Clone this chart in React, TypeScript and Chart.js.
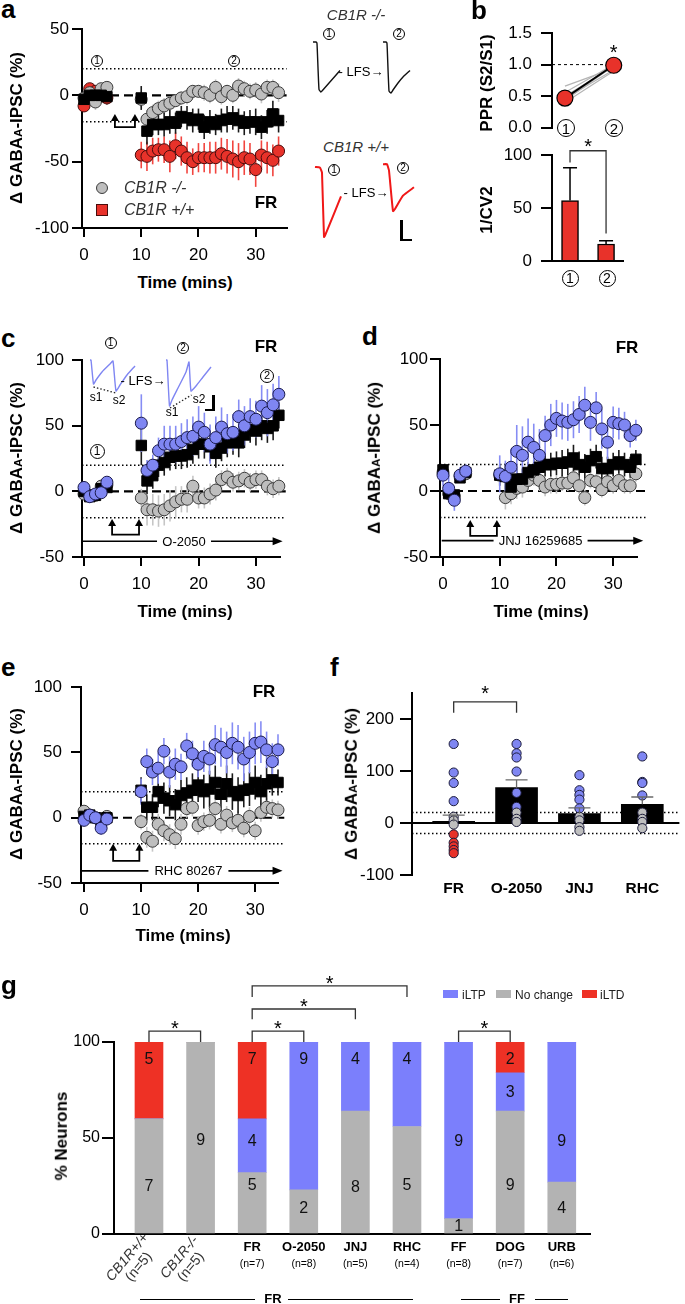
import React, { useEffect, useRef } from "react";
import { Chart, registerables } from "chart.js";

Chart.register(...registerables);

const FONT = "'Liberation Sans', Arial, Helvetica, 'DejaVu Sans', sans-serif";
const NARROW = "'Liberation Sans Narrow', 'Liberation Sans', Arial, sans-serif";
Chart.defaults.font.family = FONT;

// ================= DATA =================
const TIMES = [0, 1, 2, 3, 4, 10, 11, 12, 13, 14, 15, 16, 17, 18, 19, 20, 21, 22, 23, 24, 25, 26, 27, 28, 29, 30, 31, 32, 33, 34];
const TIME_TICKS = [0, 10, 20, 30];

// panel a
const A_KO = [-2, 2, -5, 5, 6, -3, -18, -13, -10, -8, -6, -4, -2, -1, 3, 3, 2, 0, 6, -1, 3, 0, 7, 5, 3, 4, 1, 6, 6, 2];
const A_KO_ERR = [3, 4, 6, 4, 3, 6, 7, 6, 6, 6, 5, 5, 5, 6, 5, 5, 6, 6, 6, 6, 5, 6, 6, 6, 6, 6, 7, 6, 6, 7];
const A_WT = [-8, 5, 3, 1, -2, -45, -46, -42, -41, -41, -46, -38, -42, -47, -50, -47, -47, -47, -47, -44, -46, -48, -50, -47, -48, -56, -45, -47, -49, -42];
const A_WT_ERR = [3, 4, 3, 3, 3, 10, 11, 10, 9, 10, 12, 10, 11, 12, 10, 11, 11, 12, 12, 12, 13, 14, 14, 13, 12, 13, 11, 12, 12, 11];
const A_ALL = [-3, 0, 0, 0, -1, -2, -27, -22, -22, -22, -20, -21, -16, -17, -19, -18, -24, -20, -22, -19, -18, -17, -19, -21, -20, -20, -24, -20, -14, -19];
const A_ALL_ERR = [6, 6, 6, 5, 6, 9, 10, 8, 8, 9, 9, 8, 8, 9, 9, 8, 9, 9, 8, 9, 10, 9, 9, 9, 9, 10, 9, 9, 10, 9];

// panel b
const B_PPR_S1 = [0.66, 0.56, 0.5, 0.46, 0.43, 0.4];
const B_PPR_S2 = [0.94, 1.0, 0.97, 0.92, 0.98, 0.9];
const B_PPR_MEAN = [0.47, 0.99];
const B_PPR_ERR = [0.04, 0.05];
const B_CV = [57, 16];
const B_CV_ERR = [31, 3];

// panel c (O-2050)
const C_LTP = [3, -4, -2, -1, 7, 52, 16, 20, 31, 36, 36, 36, 38, 41, 42, 49, 45, 36, 41, 49, 44, 45, 57, 50, 57, 55, 65, 60, 66, 74];
const C_LTP_ERR = [4, 5, 4, 4, 4, 22, 8, 8, 10, 14, 14, 14, 14, 14, 15, 16, 15, 15, 16, 15, 15, 14, 13, 15, 14, 14, 16, 18, 16, 14];
const C_ALL = [0, -4, -3, 2, 3, 35, 8, 12, 20, 22, 26, 27, 27, 28, 32, 36, 36, 34, 29, 33, 37, 38, 37, 43, 47, 46, 50, 48, 50, 58];
const C_ALL_ERR = [4, 4, 4, 4, 4, 15, 10, 10, 9, 10, 10, 10, 10, 10, 11, 11, 11, 11, 11, 10, 11, 10, 11, 10, 10, 11, 11, 11, 11, 10];
const C_NC = [-2, -3, -3, 4, 5, -5, -14, -14, -15, -14, -11, -8, -6, -6, 4, -5, -5, -2, 1, 9, 11, 7, 8, 10, 7, 9, 9, 4, 2, 4];
const C_NC_ERR = [5, 5, 5, 5, 5, 7, 12, 12, 12, 12, 12, 12, 10, 10, 8, 8, 8, 8, 8, 7, 7, 7, 7, 7, 7, 7, 7, 7, 7, 7];

// panel d (JNJ 16259685)
const D_LTP = [12, 2, -7, 12, 15, 13, 11, 18, 30, 27, 37, 33, 27, 42, 50, 55, 53, 52, 54, 58, 65, 52, 63, 47, 37, 52, 51, 50, 42, 46];
const D_LTP_ERR = [8, 10, 8, 6, 5, 14, 12, 14, 20, 22, 18, 18, 20, 15, 16, 14, 14, 14, 14, 14, 14, 14, 12, 15, 13, 12, 12, 10, 9, 8];
const D_ALL = [16, -2, -3, 10, 14, 12, 11, 3, 9, 9, 14, 16, 18, 20, 20, 21, 21, 22, 25, 20, 18, 23, 26, 17, 17, 20, 22, 20, 18, 24];
const D_ALL_ERR = [4, 4, 4, 4, 4, 8, 10, 8, 8, 8, 8, 8, 9, 9, 9, 9, 10, 10, 10, 10, 10, 9, 9, 9, 9, 9, 9, 9, 8, 7];
const D_NC = [14, -2, -4, 11, 13, 12, -5, -2, 2, 3, 8, 12, 8, 3, 5, 5, 6, 6, 10, 4, -5, 8, 7, 1, 7, 4, 8, 4, 4, 13];
const D_NC_ERR = [4, 4, 4, 4, 4, 8, 9, 8, 8, 8, 8, 8, 8, 7, 7, 7, 6, 6, 6, 6, 6, 6, 6, 6, 6, 6, 6, 6, 6, 6];

// panel e (RHC 80267)
const E_LTP = [-2, 2, 0, -8, -1, 20, 43, 35, 38, 51, 35, 41, 39, 55, 49, 41, 47, 45, 56, 54, 50, 57, 54, 45, 50, 57, 58, 52, 43, 52];
const E_LTP_ERR = [4, 5, 5, 5, 5, 10, 10, 10, 12, 10, 12, 12, 10, 10, 10, 10, 12, 12, 15, 15, 16, 16, 17, 17, 16, 16, 16, 14, 14, 12];
const E_ALL = [1, 2, 0, -5, 0, 21, 8, 8, 20, 15, 13, 10, 17, 19, 21, 25, 20, 22, 27, 18, 26, 20, 17, 21, 22, 27, 20, 26, 29, 27];
const E_ALL_ERR = [3, 3, 3, 3, 3, 10, 10, 10, 12, 12, 12, 12, 12, 12, 13, 13, 13, 14, 13, 13, 14, 14, 14, 13, 13, 13, 13, 13, 12, 10];
const E_NC = [5, 2, 0, -3, 1, -3, -15, -18, -5, -10, -13, -16, -5, 7, 8, -6, -3, -2, 7, -5, 2, -4, -2, -8, 1, -10, 4, 8, 7, 6];
const E_NC_ERR = [4, 4, 4, 4, 4, 6, 8, 8, 8, 8, 8, 8, 8, 7, 7, 7, 7, 7, 7, 7, 7, 7, 7, 7, 7, 7, 7, 7, 7, 7];

// panel f
const F_GROUPS = ["FR", "O-2050", "JNJ", "RHC"];
const F_MEAN = [3, 68, 18, 36];
const F_SEM = [12, 15, 11, 14];
const F_FR = [152, 97, 77, 42, 12, 5, -3, -22, -38, -45, -52, -58];
const F_O2050 = [152, 134, 126, 99, 58, 31, 20, 8, 2];
const F_JNJ = [92, 63, 54, 45, 28, 12, 5, -8, -15];
const F_RHC = [128, 79, 77, 53, 20, 8, 2, -10];

// panel g
const G_CATS = ["CB1R+/+", "CB1R-/-", "FR", "O-2050", "JNJ", "RHC", "FF", "DOG", "URB"];
const G_N = ["(n=5)", "(n=5)", "(n=7)", "(n=8)", "(n=5)", "(n=4)", "(n=8)", "(n=7)", "(n=6)"];
const G_NOCHANGE = [60, 100, 32, 23, 64, 56, 8, 64, 27];
const G_LTP = [0, 0, 28, 77, 36, 44, 92, 20, 73];
const G_LTD = [40, 0, 40, 0, 0, 0, 0, 16, 0];
const G_NOCHANGE_N = ["7", "9", "5", "2", "8", "5", "1", "9", "4"];
const G_LTP_N = ["", "", "4", "9", "4", "4", "9", "3", "9"];
const G_LTD_N = ["5", "", "7", "", "", "", "", "2", ""];

// example traces (time ms, normalised current)
const TRACE_KO_1 = [[0, 0], [3, 0], [4, -3], [6, -95], [8, -100], [9, -98], [27, -57]];
const TRACE_KO_2 = [[0, 0], [3, 0], [4, -3], [6, -98], [8, -102], [10, -96], [15, -82], [20, -70], [27, -57]];
const TRACE_WT_1 = [[0, 0], [5, -1], [6, -4], [7, -8], [9, -100], [10, -98], [26, -42]];
const TRACE_WT_2 = [[0, 4], [4, 4], [5, 0], [6, -5], [10, -63], [12, -60], [20, -41], [31, -29]];
const TRACE_C_1 = [[0, 0], [1, 0], [3.5, -24], [6, -20], [12, -12], [20, -4], [23, -1], [26, -31], [30, -25], [37, -15], [45, -6]];
const TRACE_C_2 = [[0, 0], [1, 0], [3.5, -46], [6, -40], [12, -28], [20, -12], [23, -2], [25, -31], [30, -26], [37, -17], [45, -7]];
const TRACE_C_1_PPR = [[3.5, -27], [26, -33]];
const TRACE_C_2_PPR = [[4, -48], [25.5, -35]];

// ================= STYLES =================
const STY: any = {
  nc: { shape: "circle", r: 6, fill: "#BEBEBE", stroke: "#3c3c3c", err: "#c6c6c6" },
  wt: { shape: "circle", r: 6, fill: "#E8322A", stroke: "#4a0c0c", err: "#F2453F" },
  ltp: { shape: "circle", r: 6, fill: "#7F86F2", stroke: "#1b1b4d", err: "#868DF4" },
  all: { shape: "rect", r: 7.4, fill: "#000", stroke: "#000", err: "#1a1a1a" },
};
const BLUE = "#7F86F2";
const RED = "#E8322A";

// ================= HELPERS =================
function drawErrors(chart: any, after: boolean) {
  const ctx = chart.ctx, X = chart.scales.x, Y = chart.scales.y;
  chart.data.datasets.forEach((ds: any) => {
    if (!ds.errors || !!ds.errAfter !== after) return;
    ctx.strokeStyle = ds.errColor;
    ctx.lineWidth = ds.errWidth || 1.5;
    ds.data.forEach((p: any, j: number) => {
      const e = ds.errors[j];
      const px = X.getPixelForValue(p.x);
      const top = Y.getPixelForValue(p.y + e);
      const bot = ds.errUp ? Y.getPixelForValue(p.y) : Y.getPixelForValue(p.y - e);
      ctx.beginPath();
      ctx.moveTo(px, top);
      ctx.lineTo(px, bot);
      if (ds.errCap) {
        const c = ds.errCap / 2;
        ctx.moveTo(px - c, top);
        ctx.lineTo(px + c, top);
        if (!ds.errUp) {
          ctx.moveTo(px - c, bot);
          ctx.lineTo(px + c, bot);
        }
      }
      ctx.stroke();
    });
  });
}

function star(ctx: any, x: number, y: number, size: number) {
  ctx.font = `${size}px ${FONT}`;
  ctx.textAlign = "center";
  ctx.textBaseline = "alphabetic";
  ctx.fillText("*", x, y + 0.58 * size);
}

function makeDeco(d: any) {
  return {
    id: "deco",
    beforeDatasetsDraw(chart: any) {
      const ctx = chart.ctx, X = chart.scales.x, Y = chart.scales.y;
      ctx.save();
      (d.refLines || []).forEach((l: any) => {
        ctx.beginPath();
        ctx.setLineDash(l.dash || []);
        ctx.lineWidth = l.w;
        ctx.strokeStyle = l.c || "#000";
        const py = Y.getPixelForValue(l.y);
        ctx.moveTo(X.getPixelForValue(l.x1), py);
        ctx.lineTo(X.getPixelForValue(l.x2), py);
        ctx.stroke();
      });
      ctx.setLineDash([]);
      drawErrors(chart, false);
      ctx.restore();
    },
    afterDatasetsDraw(chart: any) {
      const ctx = chart.ctx, X = chart.scales.x, Y = chart.scales.y;
      ctx.save();
      drawErrors(chart, true);
      ctx.setLineDash([]);
      ctx.strokeStyle = "#000";
      ctx.fillStyle = "#000";
      if (d.lfs) {
        const x1 = X.getPixelForValue(d.lfs.x1), x2 = X.getPixelForValue(d.lfs.x2);
        const yb = Y.getPixelForValue(d.lfs.yB), yt = Y.getPixelForValue(d.lfs.yT);
        ctx.lineWidth = 1.8;
        ctx.beginPath();
        ctx.moveTo(x1, yt + 5);
        ctx.lineTo(x1, yb);
        ctx.lineTo(x2, yb);
        ctx.lineTo(x2, yt + 5);
        ctx.stroke();
        [x1, x2].forEach((px) => {
          ctx.beginPath();
          ctx.moveTo(px, yt);
          ctx.lineTo(px - 4, yt + 7);
          ctx.lineTo(px + 4, yt + 7);
          ctx.closePath();
          ctx.fill();
        });
      }
      if (d.drug) {
        const g = d.drug;
        const py = Y.getPixelForValue(g.y);
        const x1 = X.getPixelForValue(g.x1), x2 = X.getPixelForValue(g.x2), cx = X.getPixelForValue(g.cx);
        ctx.lineWidth = 1.6;
        ctx.beginPath();
        ctx.moveTo(x1, py);
        ctx.lineTo(cx - g.gap, py);
        ctx.moveTo(cx + g.gap, py);
        ctx.lineTo(x2 - 6, py);
        ctx.stroke();
        ctx.beginPath();
        ctx.moveTo(x2, py);
        ctx.lineTo(x2 - 10, py - 4);
        ctx.lineTo(x2 - 10, py + 4);
        ctx.closePath();
        ctx.fill();
        ctx.font = `13px ${FONT}`;
        ctx.textAlign = "center";
        ctx.textBaseline = "middle";
        ctx.fillText(g.label, cx, py + 1);
      }
      (d.brackets || []).forEach((b: any) => {
        const x1 = X.getPixelForValue(b.x1), x2 = X.getPixelForValue(b.x2);
        ctx.lineWidth = 1.3;
        ctx.strokeStyle = "#333";
        ctx.beginPath();
        ctx.moveTo(x1, Y.getPixelForValue(b.l1));
        ctx.lineTo(x1, Y.getPixelForValue(b.top));
        ctx.lineTo(x2, Y.getPixelForValue(b.top));
        ctx.lineTo(x2, Y.getPixelForValue(b.l2));
        ctx.stroke();
        ctx.fillStyle = "#000";
        star(ctx, (x1 + x2) / 2, Y.getPixelForValue(b.star), b.size || 20);
      });
      (d.stars || []).forEach((s: any) => {
        ctx.fillStyle = "#000";
        star(ctx, X.getPixelForValue(s.x), Y.getPixelForValue(s.y), s.size || 20);
      });
      (d.texts || []).forEach((t: any) => {
        ctx.font = t.font;
        ctx.fillStyle = t.c || "#000";
        ctx.textAlign = "center";
        ctx.textBaseline = "middle";
        ctx.fillText(t.t, X.getPixelForValue(t.x), Y.getPixelForValue(t.y));
      });
      ctx.restore();
    },
  };
}

function padFor(box: any, area: any, yw: number, xh: number) {
  return {
    left: area.x0 - box.l - yw,
    top: area.y0 - box.t,
    right: box.l + box.w - area.x1,
    bottom: box.t + box.h - area.y1 - xh,
  };
}

function axis(ticks: number[], size: number, tickLen: number, pad: number, fmt?: (v: number) => string) {
  return {
    afterBuildTicks: (s: any) => {
      s.ticks = ticks.map((v) => ({ value: v }));
    },
    ticks: {
      font: { size, family: FONT },
      color: "#000",
      padding: pad,
      autoSkip: false,
      maxRotation: 0,
      callback: (v: any) => (fmt ? fmt(Number(v)) : String(v)),
    },
    grid: { drawOnChartArea: false, color: "#000", lineWidth: 2, tickLength: tickLen, offset: false },
    border: { color: "#000", width: 2 },
  };
}

const BASE = {
  animation: false,
  responsive: false,
  maintainAspectRatio: false,
  events: [],
};

function timeChart(p: any) {
  const padding = padFor(p.box, p.area, p.yw, p.xh);
  return {
    type: "line",
    data: {
      datasets: p.series.map((s: any) => ({
        data: TIMES.map((t, i) => ({ x: t, y: s.v[i] })),
        errors: s.e,
        errColor: s.st.err,
        errWidth: 1.6,
        showLine: false,
        pointStyle: s.st.shape,
        pointRadius: s.st.r,
        pointBackgroundColor: s.st.fill,
        pointBorderColor: s.st.stroke,
        pointBorderWidth: 1,
        order: s.order,
        clip: false,
      })),
    },
    options: {
      ...BASE,
      layout: { padding },
      plugins: { legend: { display: false }, tooltip: { enabled: false } },
      scales: {
        x: {
          type: "linear",
          min: p.xMin,
          max: p.xMax,
          ...axis(TIME_TICKS, 17, 9, 8),
          afterFit: (s: any) => {
            s.height = p.xh;
          },
        },
        y: {
          type: "linear",
          min: p.yMin,
          max: p.yMax,
          ...axis(p.yTicks, 17, 10, p.yPad),
          afterFit: (s: any) => {
            s.width = p.yw;
          },
        },
      },
    },
    plugins: [makeDeco(p.deco)],
  };
}

function dots(lo: number, hi: number) {
  return [
    { y: 0, x1: lo, x2: hi, w: 2.2, dash: [9, 5] },
    { y: 20, x1: lo, x2: hi, w: 1.5, dash: [1.5, 2.5] },
    { y: -20, x1: lo, x2: hi, w: 1.5, dash: [1.5, 2.5] },
  ];
}

// ----- panel configs -----
const A_BOX = { l: 20, t: 12, w: 275, h: 260 };
const makeA = () =>
  timeChart({
    box: A_BOX,
    area: { x0: 82, y0: 29, x1: 287, y1: 228 },
    yw: 62, xh: 40, xMin: -0.35, xMax: 35.4, yMin: -100, yMax: 50, yTicks: [-100, -50, 0, 50], yPad: 3,
    series: [
      { v: A_WT, e: A_WT_ERR, st: STY.wt, order: 3 },
      { v: A_KO, e: A_KO_ERR, st: STY.nc, order: 2 },
      { v: A_ALL, e: A_ALL_ERR, st: STY.all, order: 1 },
    ],
    deco: { refLines: dots(-0.35, 35.4), lfs: { x1: 5.4, x2: 8.9, yB: -24, yT: -14 } },
  });

const C_BOX = { l: 20, t: 342, w: 272, h: 260 };
const makeC = () =>
  timeChart({
    box: C_BOX,
    area: { x0: 82, y0: 360, x1: 280, y1: 557 },
    yw: 62, xh: 40, xMin: -0.35, xMax: 34.2, yMin: -50, yMax: 100, yTicks: [-50, 0, 50, 100], yPad: 8,
    series: [
      { v: C_NC, e: C_NC_ERR, st: STY.nc, order: 3 },
      { v: C_ALL, e: C_ALL_ERR, st: STY.all, order: 2 },
      { v: C_LTP, e: C_LTP_ERR, st: STY.ltp, order: 1 },
    ],
    deco: {
      refLines: dots(-0.35, 35.2),
      lfs: { x1: 4.9, x2: 9.6, yB: -33, yT: -21 },
      drug: { y: -38, x1: -0.35, x2: 34.66, label: "O-2050", cx: 17.45, gap: 27 },
    },
  });

const D_BOX = { l: 378, t: 342, w: 270, h: 260 };
const makeD = () =>
  timeChart({
    box: D_BOX,
    area: { x0: 440, y0: 359, x1: 637, y1: 557 },
    yw: 62, xh: 40, xMin: -0.53, xMax: 34.2, yMin: -50, yMax: 100, yTicks: [-50, 0, 50, 100], yPad: 2,
    series: [
      { v: D_NC, e: D_NC_ERR, st: STY.nc, order: 3 },
      { v: D_ALL, e: D_ALL_ERR, st: STY.all, order: 2 },
      { v: D_LTP, e: D_LTP_ERR, st: STY.ltp, order: 1 },
    ],
    deco: {
      refLines: dots(-0.53, 35.8),
      lfs: { x1: 4.8, x2: 9.5, yB: -34, yT: -22 },
      drug: { y: -37.6, x1: -0.23, x2: 35.3, label: "JNJ 16259685", cx: 17.2, gap: 47 },
    },
  });

const E_BOX = { l: 20, t: 668, w: 272, h: 260 };
const makeE = () =>
  timeChart({
    box: E_BOX,
    area: { x0: 81, y0: 685, x1: 278, y1: 883 },
    yw: 61, xh: 40, xMin: -0.53, xMax: 34.0, yMin: -50, yMax: 100, yTicks: [-50, 0, 50, 100], yPad: 9,
    series: [
      { v: E_NC, e: E_NC_ERR, st: STY.nc, order: 3 },
      { v: E_ALL, e: E_ALL_ERR, st: STY.all, order: 2 },
      { v: E_LTP, e: E_LTP_ERR, st: STY.ltp, order: 1 },
    ],
    deco: {
      refLines: dots(-0.53, 35.1),
      lfs: { x1: 5.1, x2: 9.7, yB: -33, yT: -20 },
      drug: { y: -40.7, x1: -0.53, x2: 34.8, label: "RHC 80267", cx: 18.3, gap: 40 },
    },
  });

// panel b top
const BT_BOX = { l: 470, t: 12, w: 170, h: 135 };
const makeBTop = () => {
  const area = { x0: 552, y0: 33, x1: 632, y1: 133 };
  const indiv = B_PPR_S1.map((s1, i) => ({
    data: [{ x: 1, y: s1 }, { x: 2, y: B_PPR_S2[i] }],
    borderColor: "#b4b4b4",
    borderWidth: 1.2,
    pointRadius: 0,
    showLine: true,
    order: 5,
    clip: false,
  }));
  return {
    type: "line",
    data: {
      datasets: [
        ...indiv,
        {
          data: [{ x: 1, y: B_PPR_MEAN[0] }, { x: 2, y: B_PPR_MEAN[1] }],
          borderColor: "#000",
          borderWidth: 2,
          pointRadius: 8,
          pointBackgroundColor: RED,
          pointBorderColor: "#000",
          pointBorderWidth: 1.2,
          showLine: true,
          errors: B_PPR_ERR,
          errColor: "#000",
          errCap: 8,
          errWidth: 1.5,
          order: 1,
          clip: false,
        },
      ],
    },
    options: {
      ...BASE,
      layout: { padding: padFor(BT_BOX, area, 82, 0) },
      plugins: { legend: { display: false }, tooltip: { enabled: false } },
      scales: {
        x: { type: "linear", display: false, min: 0.735, max: 2.35 },
        y: {
          type: "linear", min: 0, max: 1.5,
          ...axis([0, 0.5, 1, 1.5], 17, 11, 9, (v) => v.toFixed(1)),
          afterFit: (s: any) => { s.width = 82; },
        },
      },
    },
    plugins: [makeDeco({ refLines: [{ y: 1, x1: 0.735, x2: 2, w: 1, dash: [3, 3] }], stars: [{ x: 2, y: 1.27, size: 20 }] })],
  };
};

// panel b bottom
const BB_BOX = { l: 470, t: 135, w: 165, h: 150 };
const makeBBot = () => {
  const area = { x0: 552, y0: 155, x1: 623, y1: 261 };
  return {
    type: "bar",
    data: {
      datasets: [
        {
          data: B_CV.map((v, i) => ({ x: i, y: v })),
          backgroundColor: RED,
          borderColor: "#000",
          borderWidth: 1.5,
          barThickness: 17,
          errors: B_CV_ERR,
          errUp: true,
          errCap: 14,
          errColor: "#000",
          errWidth: 1.5,
          errAfter: true,
        },
      ],
    },
    options: {
      ...BASE,
      layout: { padding: padFor(BB_BOX, area, 82, 0) },
      plugins: { legend: { display: false }, tooltip: { enabled: false } },
      scales: {
        x: {
          type: "linear", min: -0.5, max: 1.47, offset: false,
          ticks: { display: false },
          grid: { display: false, drawTicks: false, offset: false },
          border: { color: "#000", width: 2 },
          afterFit: (s: any) => { s.height = 0; },
        },
        y: {
          type: "linear", min: 0, max: 100,
          ...axis([0, 50, 100], 17, 11, 9),
          afterFit: (s: any) => { s.width = 82; },
        },
      },
    },
    plugins: [makeDeco({ brackets: [{ x1: 0, x2: 1, top: 104, l1: 93, l2: 26, star: 113, size: 20 }] })],
  };
};

// panel f
const F_BOX = { l: 340, t: 660, w: 345, h: 240 };
const ptColor = (v: number) => (v > 20 ? BLUE : v < -20 ? RED : "#BEBEBE");
const makeF = () => {
  const area = { x0: 412, y0: 693, x1: 681, y1: 875 };
  const groups = [F_FR, F_O2050, F_JNJ, F_RHC];
  return {
    type: "bar",
    data: {
      datasets: [
        {
          type: "bar",
          data: F_MEAN.map((v, i) => ({ x: i, y: v })),
          backgroundColor: "#000",
          barThickness: 42,
          errors: F_SEM,
          errUp: true,
          errCap: 22,
          errColor: "#6a6a6a",
          errWidth: 1.3,
          errAfter: true,
          order: 2,
        },
        ...groups.map((g, gi) => ({
          type: "scatter",
          data: g.map((v) => ({ x: gi, y: v })),
          pointRadius: 4.6,
          pointBackgroundColor: g.map(ptColor),
          pointBorderColor: "#1b1b3a",
          pointBorderWidth: 1,
          showLine: false,
          order: 1,
          clip: false,
        })),
      ],
    },
    options: {
      ...BASE,
      layout: { padding: padFor(F_BOX, area, 72, 25) },
      plugins: { legend: { display: false }, tooltip: { enabled: false } },
      scales: {
        x: {
          type: "linear", min: -0.663, max: 3.59, offset: false,
          afterBuildTicks: (s: any) => { s.ticks = F_GROUPS.map((_, i) => ({ value: i })); },
          ticks: {
            font: { size: 15.5, weight: "bold", family: FONT }, color: "#000", padding: 4, autoSkip: false, maxRotation: 0,
            callback: (v: any) => F_GROUPS[Number(v)],
          },
          grid: { display: false, drawTicks: false, offset: false },
          border: { display: false },
          afterFit: (s: any) => { s.height = 25; },
        },
        y: {
          type: "linear", min: -100, max: 250,
          ...axis([-100, 0, 100, 200], 17, 12, 6),
          afterFit: (s: any) => { s.width = 72; },
        },
      },
    },
    plugins: [
      makeDeco({
        refLines: [
          { y: 0, x1: -0.663, x2: 3.59, w: 2 },
          { y: 20, x1: -0.663, x2: 3.59, w: 1.5, dash: [1.5, 2.5] },
          { y: -20, x1: -0.663, x2: 3.59, w: 1.5, dash: [1.5, 2.5] },
        ],
        brackets: [{ x1: 0, x2: 1, top: 233, l1: 212, l2: 212, star: 259, size: 20 }],
      }),
    ],
  };
};

// panel g
const G_BOX = { l: 0, t: 960, w: 600, h: 290 };
const G_LABEL_AT = {
  nc: [24.6, 48.6, 25, 13, 24, 25, 3.8, 25, 13],
  ltp: [0, 0, 48, 90.8, 90.8, 90.8, 48, 73.6, 48],
  ltd: [91, 0, 91, 0, 0, 0, 0, 91, 0],
};
const G_BRACKETS = [
  { x1: 0, x2: 1, top: 105.7, l1: 100, l2: 100, star: 109.5 },
  { x1: 2, x2: 3, top: 105.7, l1: 100, l2: 100, star: 109.5 },
  { x1: 2, x2: 4, top: 117.2, l1: 111.8, l2: 111.8, star: 121 },
  { x1: 2, x2: 5, top: 129.2, l1: 123.4, l2: 123.4, star: 133 },
  { x1: 6, x2: 7, top: 105.7, l1: 100, l2: 100, star: 109.5 },
];
const makeG = () => {
  const area = { x0: 114, y0: 1042, x1: 590, y1: 1234 };
  const texts: any[] = [];
  const nf = `16px ${NARROW}`;
  G_CATS.forEach((_, i) => {
    if (G_NOCHANGE_N[i]) texts.push({ x: i, y: G_LABEL_AT.nc[i], t: G_NOCHANGE_N[i], font: nf, c: "#111" });
    if (G_LTP_N[i]) texts.push({ x: i, y: G_LABEL_AT.ltp[i], t: G_LTP_N[i], font: nf, c: "#111" });
    if (G_LTD_N[i]) texts.push({ x: i, y: G_LABEL_AT.ltd[i], t: G_LTD_N[i], font: nf, c: "#111" });
  });
  const mk = (vals: number[], color: string) => ({
    data: vals.map((v, i) => ({ x: i, y: v })),
    backgroundColor: color,
    barThickness: 28,
    borderWidth: 0,
  });
  return {
    type: "bar",
    data: {
      datasets: [mk(G_NOCHANGE, "#B3B3B3"), mk(G_LTP, "#7B7FFC"), mk(G_LTD, "#EE3125")],
    },
    options: {
      ...BASE,
      layout: { padding: padFor(G_BOX, area, 74, 0) },
      plugins: { legend: { display: false }, tooltip: { enabled: false } },
      scales: {
        x: {
          type: "linear", min: -0.678, max: 8.547, stacked: true, offset: false,
          ticks: { display: false },
          grid: { display: false, drawTicks: false, offset: false },
          border: { color: "#000", width: 2 },
          afterFit: (s: any) => { s.height = 0; },
        },
        y: {
          type: "linear", min: 0, max: 100, stacked: true,
          ...axis([0, 50, 100], 16, 12, 2),
          afterFit: (s: any) => { s.width = 74; },
        },
      },
    },
    plugins: [makeDeco({ brackets: G_BRACKETS, texts })],
  };
};

// traces
const TRACES: any[] = [
  { pts: TRACE_KO_1, box: { l: 312, t: 38, w: 32, h: 58 }, xr: [-1, 31], yr: [-108, 8], color: "#111", w: 1.4 },
  { pts: TRACE_KO_2, box: { l: 382, t: 38, w: 32, h: 58 }, xr: [-1, 31], yr: [-108, 8], color: "#111", w: 1.4 },
  { pts: TRACE_WT_1, box: { l: 314, t: 160, w: 32, h: 84 }, xr: [-1, 31], yr: [-110, 10], color: "#F01818", w: 2 },
  { pts: TRACE_WT_2, box: { l: 382, t: 160, w: 36, h: 84 }, xr: [-1, 35], yr: [-110, 10], color: "#F01818", w: 2 },
  { pts: TRACE_C_1, dot: TRACE_C_1_PPR, box: { l: 89, t: 354, w: 50, h: 58 }, xr: [-1, 49], yr: [-52, 6], color: "#7F86F2", w: 1.4 },
  { pts: TRACE_C_2, dot: TRACE_C_2_PPR, box: { l: 165, t: 354, w: 50, h: 58 }, xr: [-1, 49], yr: [-52, 6], color: "#7F86F2", w: 1.4 },
];
const makeTrace = (tr: any) => () => ({
  type: "line",
  data: {
    datasets: [
      {
        data: tr.pts.map((p: number[]) => ({ x: p[0], y: p[1] })),
        borderColor: tr.color,
        borderWidth: tr.w,
        pointRadius: 0,
        tension: 0.15,
        clip: false,
      },
      ...(tr.dot
        ? [{
            data: tr.dot.map((p: number[]) => ({ x: p[0], y: p[1] })),
            borderColor: "#222",
            borderWidth: 1.3,
            borderDash: [1.5, 2],
            pointRadius: 0,
            clip: false,
          }]
        : []),
    ],
  },
  options: {
    ...BASE,
    layout: { padding: 0 },
    plugins: { legend: { display: false }, tooltip: { enabled: false } },
    scales: {
      x: { type: "linear", display: false, min: tr.xr[0], max: tr.xr[1] },
      y: { type: "linear", display: false, min: tr.yr[0], max: tr.yr[1] },
    },
  },
});

// ================= COMPONENTS =================
function Plot({ box, make }: any) {
  const ref = useRef<HTMLCanvasElement>(null);
  useEffect(() => {
    const chart = new Chart(ref.current as HTMLCanvasElement, make());
    return () => chart.destroy();
  }, []);
  return (
    <canvas
      ref={ref}
      width={box.w}
      height={box.h}
      style={{ position: "absolute", left: box.l, top: box.t, width: box.w, height: box.h }}
    />
  );
}

function Txt({ x, y, s = 17, b, i, a = "c", c = "#000", rot, ff = FONT, children }: any) {
  const tx = a === "c" ? "-50%" : a === "r" ? "-100%" : "0";
  return (
    <div
      style={{
        position: "absolute",
        left: x,
        top: y,
        fontSize: s,
        fontWeight: b ? "bold" : "normal",
        fontStyle: i ? "italic" : "normal",
        color: c,
        fontFamily: ff,
        lineHeight: 1.2,
        whiteSpace: "nowrap",
        textAlign: "center",
        transform: rot !== undefined ? `translate(-50%,-50%) rotate(${rot}deg)` : `translate(${tx},-50%)`,
      }}
    >
      {children}
    </div>
  );
}

function Circ({ x, y, d, n }: any) {
  return (
    <div
      style={{
        position: "absolute",
        left: x - d / 2,
        top: y - d / 2,
        width: d,
        height: d,
        boxSizing: "border-box",
        border: "1.3px solid #000",
        borderRadius: "50%",
        display: "flex",
        alignItems: "center",
        justifyContent: "center",
        fontSize: Math.round(d * 0.82),
        fontFamily: FONT,
        lineHeight: 1,
        color: "#000",
      }}
    >
      {n}
    </div>
  );
}

function Ln({ x, y, w, h, c = "#000" }: any) {
  return <div style={{ position: "absolute", left: x, top: y, width: w, height: h, background: c }} />;
}

const GABA = (
  <>
    Δ GABA<span style={{ fontSize: "0.68em" }}>A</span>-IPSC (%)
  </>
);

const G_PX = G_CATS.map((_, i) => 149 + 51.6 * i);

export default function App() {
  return (
    <div
      style={{
        position: "absolute",
        left: 0,
        top: 0,
        width: 685,
        height: 1304,
        background: "#fff",
        overflow: "hidden",
        fontFamily: FONT,
      }}
    >
      <Plot box={A_BOX} make={makeA} />
      <Plot box={BT_BOX} make={makeBTop} />
      <Plot box={BB_BOX} make={makeBBot} />
      <Plot box={C_BOX} make={makeC} />
      <Plot box={D_BOX} make={makeD} />
      <Plot box={E_BOX} make={makeE} />
      <Plot box={F_BOX} make={makeF} />
      <Plot box={G_BOX} make={makeG} />
      {TRACES.map((tr, i) => (
        <Plot key={i} box={tr.box} make={makeTrace(tr)} />
      ))}

      {/* panel letters */}
      <Txt x={1} y={10} s={26} b a="l">a</Txt>
      <Txt x={471} y={11} s={26} b a="l">b</Txt>
      <Txt x={1} y={339} s={26} b a="l">c</Txt>
      <Txt x={362} y={337} s={26} b a="l">d</Txt>
      <Txt x={1} y={668} s={26} b a="l">e</Txt>
      <Txt x={330} y={668} s={26} b a="l">f</Txt>
      <Txt x={1} y={986} s={26} b a="l">g</Txt>

      {/* panel a */}
      <Txt x={17} y={128} b rot={-90}>{GABA}</Txt>
      <Txt x={185} y={283} b>Time (mins)</Txt>
      <Circ x={97} y={61} d={12} n="1" />
      <Circ x={234} y={61} d={12} n="2" />
      <div style={{ position: "absolute", left: 96, top: 182, width: 12, height: 12, borderRadius: "50%", background: "#BEBEBE", border: "1px solid #3c3c3c", boxSizing: "border-box" }} />
      <Txt x={124} y={188} s={16} i a="l" c="#333">CB1R -/-</Txt>
      <div style={{ position: "absolute", left: 96, top: 204, width: 12, height: 12, background: RED, border: "1px solid #4a0c0c", boxSizing: "border-box" }} />
      <Txt x={124} y={210} s={16} i a="l" c="#333">CB1R +/+</Txt>
      <Txt x={266} y={203} b>FR</Txt>
      <Txt x={356} y={15} s={15} i c="#333">CB1R -/-</Txt>
      <Circ x={329} y={34} d={12} n="1" />
      <Circ x={399} y={34} d={12} n="2" />
      <Txt x={361} y={72} s={13}>- LFS→</Txt>
      <Txt x={356} y={147} s={15} i c="#333">CB1R +/+</Txt>
      <Circ x={334} y={170} d={12} n="1" />
      <Circ x={403} y={168} d={12} n="2" />
      <Txt x={366} y={193} s={13}>- LFS→</Txt>
      <Ln x={400} y={220} w={2.5} h={21} />
      <Ln x={400} y={238.5} w={12} h={2.5} />

      {/* panel b */}
      <Txt x={487} y={83} b rot={-90}>PPR (S2/S1)</Txt>
      <Txt x={487} y={210} b rot={-90}>1/CV2</Txt>
      <Circ x={566} y={128} d={18} n="1" />
      <Circ x={614} y={128} d={18} n="2" />
      <Circ x={570} y={278} d={17} n="1" />
      <Circ x={607} y={278} d={17} n="2" />

      {/* panel c */}
      <Txt x={17} y={458} b rot={-90}>{GABA}</Txt>
      <Txt x={185} y={612} b>Time (mins)</Txt>
      <Txt x={266} y={347} b>FR</Txt>
      <Circ x={110.5} y={343} d={12} n="1" />
      <Circ x={183} y={348} d={12} n="2" />
      <Circ x={267} y={375.5} d={14} n="2" />
      <Circ x={97} y={451} d={15} n="1" />
      <Txt x={143} y={381} s={13}>- LFS→</Txt>
      <Txt x={96} y={397} s={12}>s1</Txt>
      <Txt x={119} y={400} s={12}>s2</Txt>
      <Txt x={172} y={412} s={12}>s1</Txt>
      <Txt x={199} y={399} s={12}>s2</Txt>
      <Ln x={212} y={395} w={2.5} h={16} />
      <Ln x={205} y={408.5} w={9.5} h={2.5} />

      {/* panel d */}
      <Txt x={375} y={458} b rot={-90}>{GABA}</Txt>
      <Txt x={541} y={612} b>Time (mins)</Txt>
      <Txt x={627} y={348} b>FR</Txt>

      {/* panel e */}
      <Txt x={17} y={784} b rot={-90}>{GABA}</Txt>
      <Txt x={183} y={936} b>Time (mins)</Txt>
      <Txt x={264} y={692} b>FR</Txt>

      {/* panel f */}
      <Txt x={352} y={784} b rot={-90}>{GABA}</Txt>

      {/* panel g */}
      <Txt x={62} y={1136} b rot={-90}>% Neurons</Txt>
      <div style={{ position: "absolute", left: 443, top: 990, width: 15, height: 8, background: "#7B7FFC" }} />
      <Txt x={462} y={995} s={12} a="l" c="#222">iLTP</Txt>
      <div style={{ position: "absolute", left: 496, top: 990, width: 15, height: 8, background: "#B3B3B3" }} />
      <Txt x={515} y={995} s={12} a="l" c="#222">No change</Txt>
      <div style={{ position: "absolute", left: 582, top: 990, width: 15, height: 8, background: "#EE3125" }} />
      <Txt x={600} y={995} s={12} a="l" c="#222">iLTD</Txt>
      {[0, 1].map((i) => (
        <div
          key={i}
          style={{
            position: "absolute",
            left: G_PX[i] - 16,
            top: 1262,
            transform: "translate(-50%,-50%) rotate(-50deg)",
            textAlign: "center",
            fontSize: 14,
            lineHeight: 1.1,
            color: "#333",
            whiteSpace: "nowrap",
            fontFamily: FONT,
          }}
        >
          <i>{G_CATS[i]}</i>
          <br />
          {G_N[i]}
        </div>
      ))}
      {G_CATS.slice(2).map((c, k) => (
        <React.Fragment key={c}>
          <Txt x={G_PX[k + 2]} y={1247} s={13} b>{c}</Txt>
          <Txt x={G_PX[k + 2]} y={1263} s={10.5}>{G_N[k + 2]}</Txt>
        </React.Fragment>
      ))}
      <Ln x={140} y={1299} w={115} h={1.3} />
      <Txt x={273} y={1299} s={13} b>FR</Txt>
      <Ln x={288} y={1299} w={125} h={1.3} />
      <Ln x={461} y={1299} w={39} h={1.3} />
      <Txt x={517} y={1299} s={13} b>FF</Txt>
      <Ln x={535} y={1299} w={33} h={1.3} />
    </div>
  );
}
